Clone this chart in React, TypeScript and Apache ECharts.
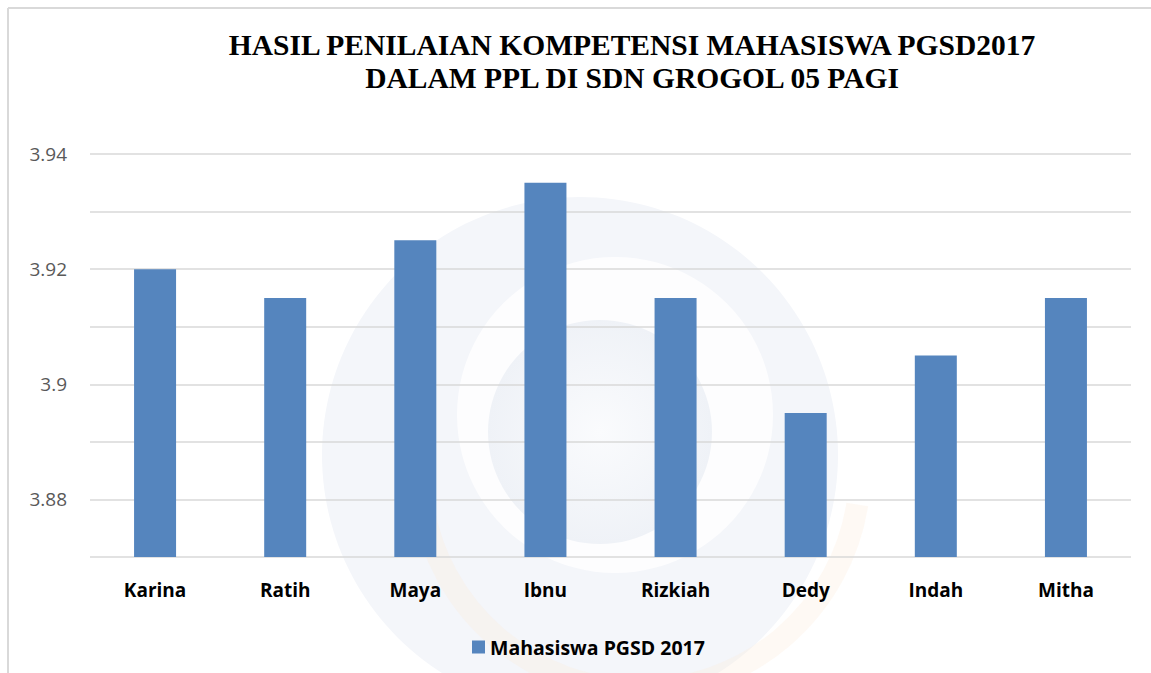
import React, { useEffect, useRef } from "react";
import * as echarts from "echarts";

const titleLines = [
  "HASIL PENILAIAN KOMPETENSI MAHASISWA PGSD2017",
  "DALAM PPL DI SDN GROGOL 05 PAGI",
];
const categories = ["Karina", "Ratih", "Maya", "Ibnu", "Rizkiah", "Dedy", "Indah", "Mitha"];
const values = [3.92, 3.915, 3.925, 3.935, 3.915, 3.895, 3.905, 3.915];
const seriesName = "Mahasiswa PGSD 2017";
const yMin = 3.87;
const yMax = 3.94;
const yInterval = 0.01;

export default function App() {
  const ref = useRef<HTMLDivElement>(null);
  useEffect(() => {
    if (!ref.current) return;
    const chart = echarts.init(ref.current, null, { renderer: "svg" });
    chart.setOption({
      animation: false,
      backgroundColor: "#ffffff",
      title: {
        text: titleLines.join("\n"),
        left: 627,
        top: 23,
        textAlign: "center",
        textStyle: {
          fontFamily: "Liberation Serif",
          fontWeight: "bold",
          fontSize: 29.5,
          lineHeight: 33,
          color: "#000000",
        },
      },
      graphic: [
        {
          type: "circle",
          z: -100,
          silent: true,
          shape: { cx: 580, cy: 455, r: 258 },
          style: { fill: "#f4f6fa" },
        },
        {
          type: "circle",
          z: -99,
          silent: true,
          shape: { cx: 615, cy: 415, r: 158 },
          style: { fill: "#fdfdfe" },
        },
        {
          type: "circle",
          z: -98,
          silent: true,
          shape: { cx: 600, cy: 432, r: 112 },
          style: {
            fill: {
              type: "radial",
              x: 0.5,
              y: 0.5,
              r: 0.5,
              colorStops: [
                { offset: 0, color: "#fafbfd" },
                { offset: 1, color: "#eff2f7" },
              ],
            },
          },
        },
        {
          type: "arc",
          z: -97,
          silent: true,
          shape: { cx: 640, cy: 470, r: 220, startAngle: Math.PI * 0.05, endAngle: Math.PI * 0.95 },
          style: { stroke: "rgba(252,236,220,0.3)", lineWidth: 22, fill: "none" },
        },
        {
          type: "line",
          silent: true,
          shape: { x1: 8, y1: 8, x2: 1151, y2: 8 },
          style: { stroke: "#d9d9d9", lineWidth: 2 },
        },
        {
          type: "line",
          silent: true,
          shape: { x1: 8, y1: 8, x2: 8, y2: 673 },
          style: { stroke: "#d9d9d9", lineWidth: 2 },
        },
      ],
      legend: {
        left: 467,
        top: 632,
        icon: "rect",
        itemWidth: 13,
        itemHeight: 13,
        itemGap: 7,
        textStyle: {
          fontFamily: "Open Sans",
          fontWeight: "bold",
          fontSize: 19.5,
          color: "#000000",
        },
        data: [seriesName],
      },
      grid: { left: 90, right: 20, top: 154, bottom: 116, containLabel: false },
      xAxis: {
        type: "category",
        data: categories,
        axisLine: { show: false },
        axisTick: { show: false },
        axisLabel: {
          margin: 23,
          fontFamily: "Open Sans",
          fontWeight: "bold",
          fontSize: 19,
          color: "#000000",
        },
      },
      yAxis: {
        type: "value",
        min: yMin,
        max: yMax,
        interval: yInterval,
        axisLine: { show: false },
        axisTick: { show: false },
        splitLine: { lineStyle: { color: "#d9d9d9", width: 1.5 } },
        axisLabel: {
          margin: 23,
          fontFamily: "Open Sans",
          fontSize: 19,
          color: "#595959",
          formatter: (v: number) => {
            const r = Math.round(v * 1000);
            if (r % 20 !== 0) return "";
            return String(Number(v.toFixed(2)));
          },
        },
      },
      series: [
        {
          name: seriesName,
          type: "bar",
          data: values,
          barWidth: 42,
          itemStyle: { color: "#5585be" },
        },
      ],
    });
    return () => chart.dispose();
  }, []);
  return (
    <div
      ref={ref}
      style={{ position: "absolute", left: 0, top: 0, width: 1151, height: 673 }}
    />
  );
}
